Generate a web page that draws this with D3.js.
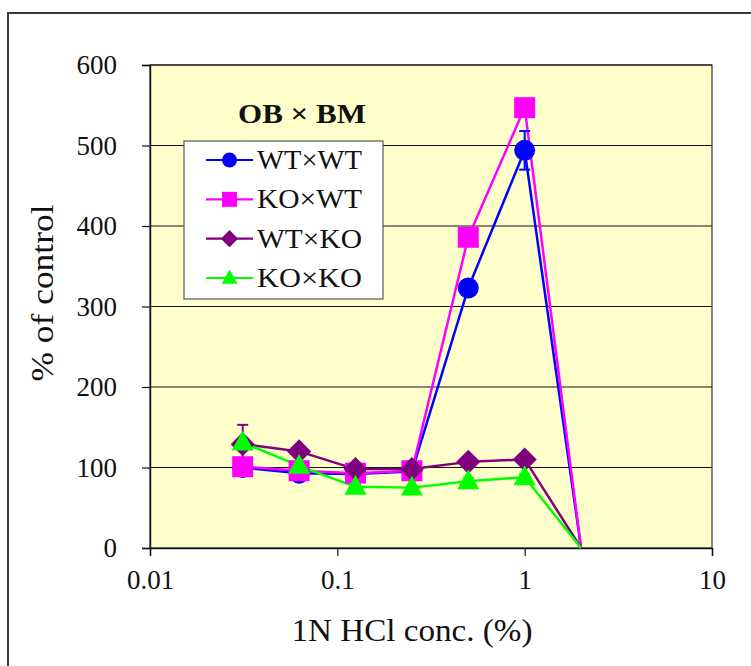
<!DOCTYPE html>
<html>
<head>
<meta charset="utf-8">
<script src="https://cdn.jsdelivr.net/npm/d3@7"></script>
<style>
  html, body { margin: 0; padding: 0; background: #fff; }
  svg text { font-family: "Liberation Serif", "Times New Roman", "DejaVu Serif", serif !important; }
</style>
</head>
<body>
<svg id="chart" width="751" height="666"></svg>
<script>
// HCl concentration series (1N HCl, % v/v)
const concentrations = [0.03125, 0.0625, 0.125, 0.25, 0.5, 1, 2];
const seriesNames = ["WT×WT", "KO×WT", "WT×KO", "KO×KO"];
const wtwt = [100, 93, 92, 95, 323, 494, 0];
const kowt = [101, 96, 93, 96, 386, 547, 0];
const wtko = [129, 120, 98, 98, 107, 110, 0];
const koko = [131, 102, 76, 75, 83, 88, 0];
const wtwtErr = [3, 4, 3, 3, 6, 24, 0];
const kowtErr = [3, 4, 3, 3, 6, 10, 0];
const wtkoErr = [24, 6, 4, 4, 5, 6, 0];
const kokoErr = [4, 4, 3, 3, 4, 4, 0];
const xTicks = [0.01, 0.1, 1, 10];
const yTicks = [0, 100, 200, 300, 400, 500, 600];

const colors = ["#0000FF", "#FF00FF", "#800080", "#00FF00"];
const symbols = ["circle", "square", "diamond", "triangle"];

const series = seriesNames.map((name, i) => ({
  name,
  values: [wtwt, kowt, wtko, koko][i],
  errors: [wtwtErr, kowtErr, wtkoErr, kokoErr][i],
  color: colors[i],
  symbol: symbols[i]
}));

const svg = d3.select("#chart");
const plot = { left: 150, right: 712, top: 65, bottom: 548 };

// outer frame
svg.append("rect")
  .attr("x", 8).attr("y", 13).attr("width", 900).attr("height", 900)
  .attr("fill", "#fff").attr("stroke", "#3a3a3a").attr("stroke-width", 2);

const x = d3.scaleLog().domain([0.01, 10]).range([plot.left, plot.right]);
const y = d3.scaleLinear().domain([0, 600]).range([plot.bottom, plot.top]);

// plot background
svg.append("rect")
  .attr("x", plot.left).attr("y", plot.top)
  .attr("width", plot.right - plot.left).attr("height", plot.bottom - plot.top)
  .attr("fill", "#FFFFCC").attr("stroke", "#333").attr("stroke-width", 1.2);

// horizontal gridlines
svg.append("g").selectAll("line")
  .data(yTicks.filter(d => d > 0))
  .join("line")
  .attr("x1", plot.left).attr("x2", plot.right)
  .attr("y1", d => y(d)).attr("y2", d => y(d))
  .attr("stroke", "#111").attr("stroke-width", 1.2);

// y axis
const yAxis = svg.append("g")
  .attr("transform", `translate(${plot.left},0)`)
  .call(d3.axisLeft(y).tickValues(yTicks).tickSize(8).tickPadding(25).tickFormat(d3.format("d")));
yAxis.select(".domain").attr("stroke", "#111").attr("stroke-width", 1.4);
yAxis.selectAll(".tick line").attr("stroke", "#111").attr("stroke-width", 1.2);
yAxis.selectAll(".tick text")
  .attr("font-size", 27).attr("fill", "#111")
  .attr("textLength", d => String(d).length * 13.5).attr("lengthAdjust", "spacingAndGlyphs");

// x axis
const xAxis = svg.append("g")
  .attr("transform", `translate(0,${plot.bottom})`)
  .call(d3.axisBottom(x).tickValues(xTicks).tickSize(8).tickPadding(14).tickFormat(d => String(d)));
xAxis.select(".domain").attr("stroke", "#111").attr("stroke-width", 1.4);
xAxis.selectAll(".tick line").attr("stroke", "#111").attr("stroke-width", 1.2);
xAxis.selectAll(".tick text")
  .attr("font-size", 27).attr("fill", "#111");

// axis titles
svg.append("text")
  .attr("x", 412).attr("y", 641)
  .attr("text-anchor", "middle")
  .attr("font-size", 31).attr("fill", "#111")
  .attr("textLength", 241).attr("lengthAdjust", "spacingAndGlyphs")
  .text("1N HCl conc. (%)");

svg.append("text")
  .attr("transform", "translate(53,293) rotate(-90)")
  .attr("text-anchor", "middle")
  .attr("font-size", 31).attr("fill", "#111")
  .attr("textLength", 177).attr("lengthAdjust", "spacingAndGlyphs")
  .text("% of control");

// series lines
const line = d3.line()
  .x((d, i) => x(concentrations[i]))
  .y(d => y(d));

const seriesG = svg.append("g");
series.forEach(s => {
  seriesG.append("path")
    .datum(s.values)
    .attr("d", line)
    .attr("fill", "none")
    .attr("stroke", s.color)
    .attr("stroke-width", 2.5)
    .attr("stroke-linejoin", "round");
});

// error bars
series.forEach(s => {
  const g = seriesG.append("g").attr("stroke", s.color).attr("stroke-width", 2);
  s.values.forEach((v, i) => {
    const e = s.errors[i];
    if (!e) return;
    const cx = x(concentrations[i]);
    g.append("line").attr("x1", cx).attr("x2", cx).attr("y1", y(v - e)).attr("y2", y(v + e));
    g.append("line").attr("x1", cx - 5.5).attr("x2", cx + 5.5).attr("y1", y(v + e)).attr("y2", y(v + e));
    g.append("line").attr("x1", cx - 5.5).attr("x2", cx + 5.5).attr("y1", y(v - e)).attr("y2", y(v - e));
  });
});

// marker shapes
function marker(g, type, cx, cy, size, color) {
  const r = size / 2;
  if (type === "circle") {
    g.append("circle").attr("cx", cx).attr("cy", cy).attr("r", r).attr("fill", color);
  } else if (type === "square") {
    g.append("rect").attr("x", cx - r).attr("y", cy - r).attr("width", size).attr("height", size).attr("fill", color);
  } else if (type === "diamond") {
    const d = r * 1.15;
    g.append("path").attr("d", `M${cx},${cy - d}L${cx + d},${cy}L${cx},${cy + d}L${cx - d},${cy}Z`).attr("fill", color);
  } else if (type === "triangle") {
    const h = size * 0.95;
    g.append("path").attr("d", `M${cx},${cy - h * 0.6}L${cx + r * 1.05},${cy + h * 0.4}L${cx - r * 1.05},${cy + h * 0.4}Z`).attr("fill", color);
  }
}

series.forEach(s => {
  const g = seriesG.append("g");
  s.values.forEach((v, i) => {
    if (concentrations[i] >= 2) return;
    marker(g, s.symbol, x(concentrations[i]), y(v), 21, s.color);
  });
});

// panel title
svg.append("text")
  .attr("x", 302).attr("y", 123)
  .attr("text-anchor", "middle")
  .attr("font-size", 27).attr("font-weight", "bold").attr("fill", "#111")
  .attr("textLength", 128).attr("lengthAdjust", "spacingAndGlyphs")
  .text("OB × BM");

// legend
const legend = svg.append("g");
legend.append("rect")
  .attr("x", 184).attr("y", 141).attr("width", 199).attr("height", 158)
  .attr("fill", "#fff").attr("stroke", "#555").attr("stroke-width", 1.2);
const rowY = d3.scalePoint().domain(seriesNames).range([160, 278]);
series.forEach(s => {
  const cy = rowY(s.name);
  legend.append("line")
    .attr("x1", 206).attr("x2", 253).attr("y1", cy).attr("y2", cy)
    .attr("stroke", s.color).attr("stroke-width", 2.2);
  marker(legend, s.symbol, 229.5, cy, 15, s.color);
  legend.append("text")
    .attr("x", 257).attr("y", cy + 9)
    .attr("font-size", 28).attr("fill", "#111")
    .attr("textLength", 105).attr("lengthAdjust", "spacingAndGlyphs")
    .text(s.name);
});
</script>
</body>
</html>
